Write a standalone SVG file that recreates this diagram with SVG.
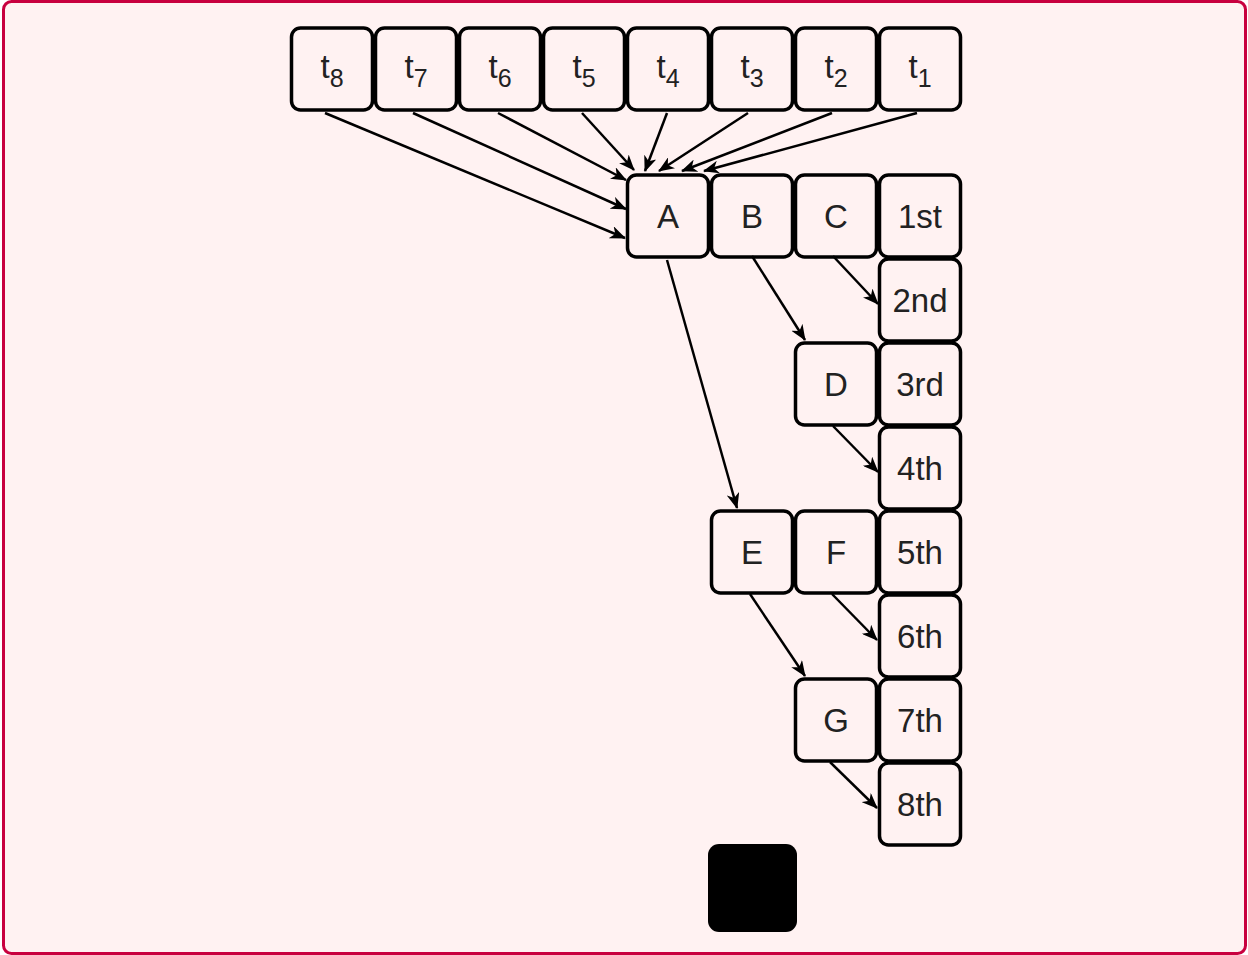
<svg xmlns="http://www.w3.org/2000/svg" width="1248" height="955" viewBox="0 0 1248 955">
<defs>
<style>
.n rect{fill:#fff2f2;stroke:#000;stroke-width:3.5}
text{font-family:"Liberation Sans",Arial,sans-serif;font-size:33px;fill:#222;text-anchor:middle}
.sub{font-size:25px}
#edges line{stroke:#000;stroke-width:2.5;fill:none}
</style>
<marker id="ah" viewBox="0 0 16 13" refX="15" refY="6.5" markerWidth="16" markerHeight="13" markerUnits="userSpaceOnUse" orient="auto">
<path d="M0,0 L16,6.5 L0,13 L4.5,6.5 Z" fill="#000"/>
</marker>
</defs>
<rect x="3.5" y="1.5" width="1242" height="952" rx="8" fill="#fff2f2" stroke="#c8003f" stroke-width="3"/>

<g id="t8" class="n"><rect x="291.5" y="28" width="81" height="82" rx="9"/><text x="332" y="78">t<tspan class="sub" dy="9">8</tspan></text></g>
<g id="t7" class="n"><rect x="375.5" y="28" width="81" height="82" rx="9"/><text x="416" y="78">t<tspan class="sub" dy="9">7</tspan></text></g>
<g id="t6" class="n"><rect x="459.5" y="28" width="81" height="82" rx="9"/><text x="500" y="78">t<tspan class="sub" dy="9">6</tspan></text></g>
<g id="t5" class="n"><rect x="543.5" y="28" width="81" height="82" rx="9"/><text x="584" y="78">t<tspan class="sub" dy="9">5</tspan></text></g>
<g id="t4" class="n"><rect x="627.5" y="28" width="81" height="82" rx="9"/><text x="668" y="78">t<tspan class="sub" dy="9">4</tspan></text></g>
<g id="t3" class="n"><rect x="711.5" y="28" width="81" height="82" rx="9"/><text x="752" y="78">t<tspan class="sub" dy="9">3</tspan></text></g>
<g id="t2" class="n"><rect x="795.5" y="28" width="81" height="82" rx="9"/><text x="836" y="78">t<tspan class="sub" dy="9">2</tspan></text></g>
<g id="t1" class="n"><rect x="879.5" y="28" width="81" height="82" rx="9"/><text x="920" y="78">t<tspan class="sub" dy="9">1</tspan></text></g>

<g id="A" class="n"><rect x="627.5" y="175" width="81" height="82" rx="9"/><text x="668" y="228">A</text></g>
<g id="B" class="n"><rect x="711.5" y="175" width="81" height="82" rx="9"/><text x="752" y="228">B</text></g>
<g id="C" class="n"><rect x="795.5" y="175" width="81" height="82" rx="9"/><text x="836" y="228">C</text></g>
<g id="n1st" class="n"><rect x="879.5" y="175" width="81" height="82" rx="9"/><text x="920" y="228">1st</text></g>
<g id="n2nd" class="n"><rect x="879.5" y="259" width="81" height="82" rx="9"/><text x="920" y="312">2nd</text></g>
<g id="D" class="n"><rect x="795.5" y="343" width="81" height="82" rx="9"/><text x="836" y="396">D</text></g>
<g id="n3rd" class="n"><rect x="879.5" y="343" width="81" height="82" rx="9"/><text x="920" y="396">3rd</text></g>
<g id="n4th" class="n"><rect x="879.5" y="427" width="81" height="82" rx="9"/><text x="920" y="480">4th</text></g>
<g id="E" class="n"><rect x="711.5" y="511" width="81" height="82" rx="9"/><text x="752" y="564">E</text></g>
<g id="F" class="n"><rect x="795.5" y="511" width="81" height="82" rx="9"/><text x="836" y="564">F</text></g>
<g id="n5th" class="n"><rect x="879.5" y="511" width="81" height="82" rx="9"/><text x="920" y="564">5th</text></g>
<g id="n6th" class="n"><rect x="879.5" y="595" width="81" height="82" rx="9"/><text x="920" y="648">6th</text></g>
<g id="G" class="n"><rect x="795.5" y="679" width="81" height="82" rx="9"/><text x="836" y="732">G</text></g>
<g id="n7th" class="n"><rect x="879.5" y="679" width="81" height="82" rx="9"/><text x="920" y="732">7th</text></g>
<g id="n8th" class="n"><rect x="879.5" y="763" width="81" height="82" rx="9"/><text x="920" y="816">8th</text></g>
<g id="black"><rect x="708" y="844" width="89" height="88" rx="11" fill="#000"/></g>

<g id="edges">
<line x1="325" y1="113" x2="625" y2="238" marker-end="url(#ah)"/>
<line x1="413" y1="113" x2="626" y2="209" marker-end="url(#ah)"/>
<line x1="498" y1="113" x2="626" y2="180" marker-end="url(#ah)"/>
<line x1="582" y1="113" x2="634" y2="170" marker-end="url(#ah)"/>
<line x1="667" y1="113" x2="645" y2="171" marker-end="url(#ah)"/>
<line x1="748" y1="113" x2="659" y2="171" marker-end="url(#ah)"/>
<line x1="832" y1="113" x2="682" y2="171" marker-end="url(#ah)"/>
<line x1="917" y1="113" x2="704" y2="171" marker-end="url(#ah)"/>
<line x1="667" y1="260" x2="737" y2="508" marker-end="url(#ah)"/>
<line x1="752" y1="256" x2="805" y2="340" marker-end="url(#ah)"/>
<line x1="833" y1="256" x2="878" y2="304" marker-end="url(#ah)"/>
<line x1="833" y1="426" x2="878" y2="472" marker-end="url(#ah)"/>
<line x1="750" y1="594" x2="805" y2="676" marker-end="url(#ah)"/>
<line x1="832" y1="594" x2="877" y2="640" marker-end="url(#ah)"/>
<line x1="830" y1="762" x2="877" y2="808" marker-end="url(#ah)"/>
</g>
</svg>
